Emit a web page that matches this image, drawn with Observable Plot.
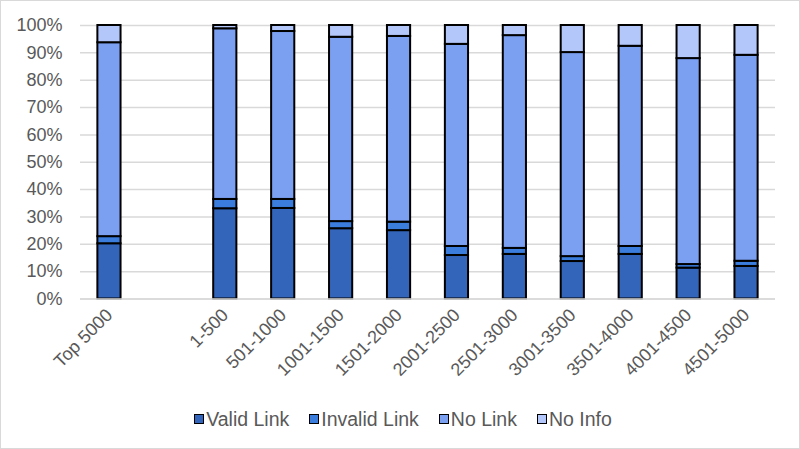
<!DOCTYPE html>
<html>
<head>
<meta charset="utf-8">
<script src="https://cdn.jsdelivr.net/npm/d3@7"></script>
<script src="https://cdn.jsdelivr.net/npm/@observablehq/plot@0.6"></script>
<style>
  html, body { margin: 0; padding: 0; background: #fff; }
  #frame { width: 798px; height: 447px; border: 1px solid #d9d9d9; position: relative; overflow: hidden; font-family: "Liberation Sans", Arial, sans-serif; }
  #legend { display: flex; justify-content: center; gap: 20px; margin-top: 17px; font-size: 19.5px; color: #595959; line-height: 20px; padding-left: 6px; }
  .item { display: flex; align-items: center; }
  .sw { width: 8px; height: 8px; border: 1.5px solid #000; margin-right: 2px; display: inline-block; }
</style>
</head>
<body>
<div id="frame"><div id="chart"></div><div id="legend"></div></div>
<script>
const categories = ["Top 5000", " ", "1-500", "501-1000", "1001-1500", "1501-2000", "2001-2500", "2501-3000", "3001-3500", "3501-4000", "4001-4500", "4501-5000"];
const series = ["Valid Link", "Invalid Link", "No Link", "No Info"];
const colors = ["#3366bb", "#3b7ddd", "#7ba0f2", "#b4c7fa"];
const barCats = ["Top 5000", "1-500", "501-1000", "1001-1500", "1501-2000", "2001-2500", "2501-3000", "3001-3500", "3501-4000", "4001-4500", "4501-5000"];
const validLink   = [20.2, 33.0, 33.1, 25.7, 25.0, 15.9, 16.3, 13.7, 16.3, 11.3, 11.9];
const invalidLink = [2.6, 3.4, 3.3, 2.6, 3.1, 3.3, 2.2, 1.8, 2.9, 1.3, 1.9];
const noLink      = [70.9, 62.4, 61.4, 67.4, 67.9, 73.9, 77.8, 74.6, 73.2, 75.3, 75.3];
const noInfo      = [6.3, 1.2, 2.2, 4.3, 4.0, 6.9, 3.7, 9.9, 7.6, 12.1, 10.9];
const yTicks = [0, 10, 20, 30, 40, 50, 60, 70, 80, 90, 100];

const table = [];
const seriesValues = [validLink, invalidLink, noLink, noInfo];
barCats.forEach((c, i) => {
  series.forEach((s, j) => table.push({cat: c, series: s, value: seriesValues[j][i]}));
});

const chart = Plot.plot({
  width: 798,
  height: 391,
  marginLeft: 79,
  marginRight: 24,
  marginTop: 24,
  marginBottom: 93.5,
  style: {fontFamily: "'Liberation Sans', Arial, sans-serif", fontSize: "18px", color: "#595959", background: "#fff"},
  x: {domain: categories, paddingInner: 0.6, paddingOuter: 0.3, round: false, label: null},
  y: {domain: [0, 100], label: null},
  color: {domain: series, range: colors},
  marks: [
    Plot.gridY(yTicks, {stroke: "#d9d9d9", strokeOpacity: 1, strokeWidth: 1.5}),
    Plot.axisY(yTicks, {tickFormat: d => d + "%", tickSize: 0, tickPadding: 18, label: null}),
    Plot.axisX({tickSize: 0, tickPadding: 13, tickRotate: -45, label: null}),
    Plot.barY(table, {x: "cat", y: "value", fill: "series", stroke: "#000", strokeWidth: 2, order: series}),
    Plot.ruleY([0], {stroke: "#d9d9d9", strokeWidth: 1.5})
  ]
});
document.getElementById("chart").appendChild(chart);

const legend = document.getElementById("legend");
series.forEach((s, i) => {
  const it = document.createElement("div");
  it.className = "item";
  const sw = document.createElement("span");
  sw.className = "sw";
  sw.style.background = colors[i];
  it.appendChild(sw);
  it.appendChild(document.createTextNode(s));
  legend.appendChild(it);
});
</script>
</body>
</html>
